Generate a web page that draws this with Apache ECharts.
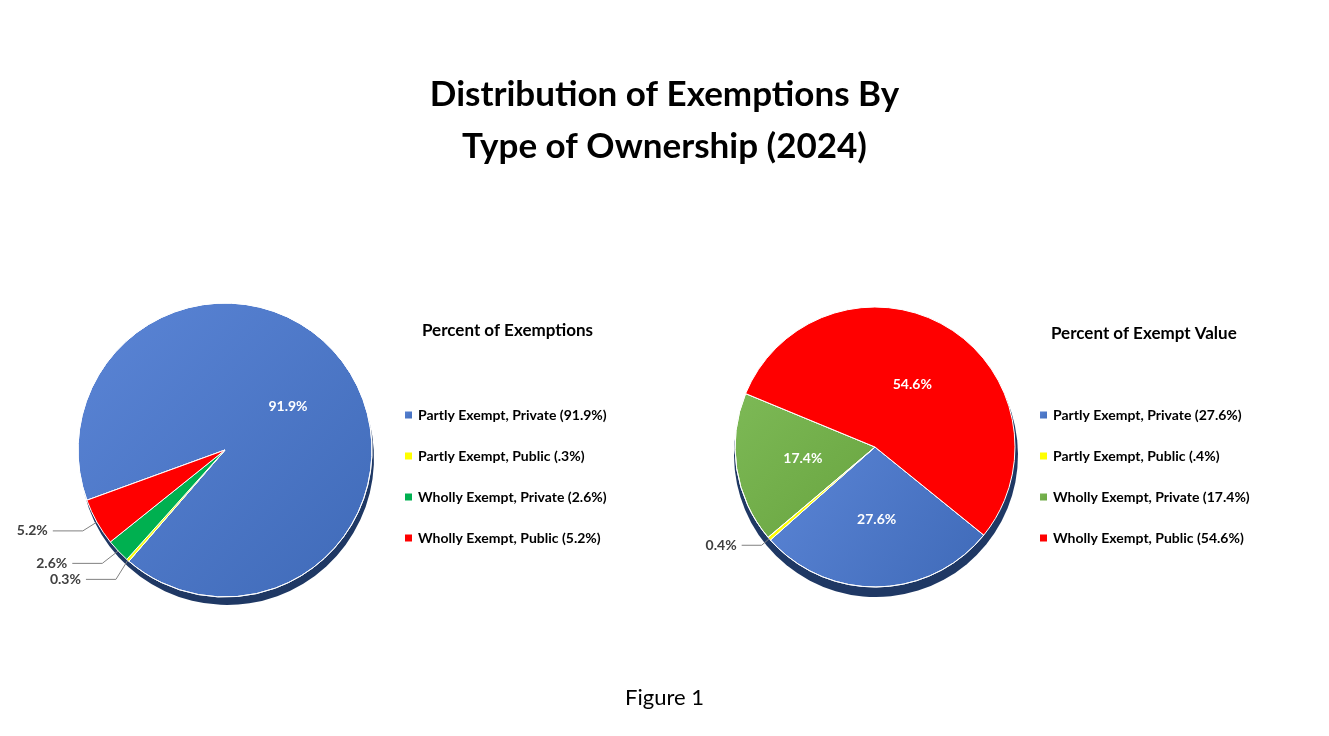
<!DOCTYPE html><html><head><meta charset="utf-8">
<script src="https://cdn.jsdelivr.net/npm/echarts@6/dist/echarts.min.js"></script>
<style>html,body{margin:0;background:#fff}#c{width:1329px;height:736px}</style></head><body><div id="c"></div>
<script>
const namesLeft=['Partly Exempt, Private (91.9%)','Partly Exempt, Public (.3%)','Wholly Exempt, Private (2.6%)','Wholly Exempt, Public (5.2%)'];
const valuesLeft=[91.9,0.3,2.6,5.2];
const namesRight=['Partly Exempt, Private (27.6%)','Partly Exempt, Public (.4%)','Wholly Exempt, Private (17.4%)','Wholly Exempt, Public (54.6%)'];
const valuesRight=[27.6,0.4,17.4,54.6];
const colorsLeft=['#4472C4','#FFFF00','#00B050','#FF0000'];
const colorsRight=['#4472C4','#FFFF00','#70AD47','#FF0000'];
const F='Lato, "Open Sans", sans-serif';
function grad(c){if(c==='#4472C4')return new echarts.graphic.LinearGradient(0,0,1,1,[{offset:0,color:'#5B85D6'},{offset:1,color:'#3F6AB8'}]);if(c==='#70AD47')return new echarts.graphic.LinearGradient(0,0,1,1,[{offset:0,color:'#7DB956'},{offset:1,color:'#68A43F'}]);return c;}
function mk(names,vals,cols,inside){return names.map((n,i)=>({name:n,value:vals[i],itemStyle:{color:grad(cols[i])},
 label:inside[i]?{position:'inside',color:'#fff',fontWeight:'bold',fontSize:14}:{position:'outside',color:'#404040',fontWeight:'bold',fontSize:14}}));}
function shadow(c,r,sa){return {type:'pie',center:c,radius:r,startAngle:sa,silent:true,label:{show:false},labelLine:{show:false},z:1,
 data:[{value:1,itemStyle:{color:'#1F3864'}}]};}
const chart=echarts.init(document.getElementById('c'));
chart.setOption({
 title:[{text:'Distribution of Exemptions By\nType of Ownership (2024)',left:'center',top:64,textStyle:{fontFamily:F,fontSize:35,fontWeight:'bold',color:'#000',lineHeight:52}},
  {text:'Percent of Exemptions',left:417,top:317,textStyle:{fontFamily:F,fontSize:17,fontWeight:'bold',color:'#000'}},
  {text:'Percent of Exempt Value',left:1046,top:320,textStyle:{fontFamily:F,fontSize:17,fontWeight:'bold',color:'#000'}},
  {text:'Figure 1',left:'center',top:682,textStyle:{fontFamily:F,fontSize:22,fontWeight:'normal',color:'#000'}}],
 legend:[{data:namesLeft,orient:'vertical',left:398,top:403,itemGap:27,itemWidth:9,itemHeight:9,icon:'rect',textStyle:{fontFamily:F,fontSize:14,fontWeight:'bold',color:'#000'}},
  {data:namesRight,orient:'vertical',left:1033,top:403,itemGap:27,itemWidth:9,itemHeight:9,icon:'rect',textStyle:{fontFamily:F,fontSize:14,fontWeight:'bold',color:'#000'}}],
 series:[shadow([227,458],[0,147],200),shadow([876,455],[0,142],321),
  {type:'pie',z:2,center:[225,450],radius:[0,147],startAngle:200,clockwise:true,label:{formatter:p=>p.value+'%',fontFamily:F},
   labelLine:{length:18,length2:30,lineStyle:{color:'#808080'}},
   itemStyle:{borderColor:'#fff',borderWidth:1},
   data:mk(namesLeft,valuesLeft,colorsLeft,[1,0,0,0])},
  {type:'pie',z:2,center:[875,447],radius:[0,140],startAngle:321,clockwise:true,label:{formatter:p=>p.value+'%',fontFamily:F},
   labelLine:{length:10,length2:20,lineStyle:{color:'#808080'}},
   itemStyle:{borderColor:'#fff',borderWidth:1},
   data:mk(namesRight,valuesRight,colorsRight,[1,0,1,1])}]
});
</script></body></html>
